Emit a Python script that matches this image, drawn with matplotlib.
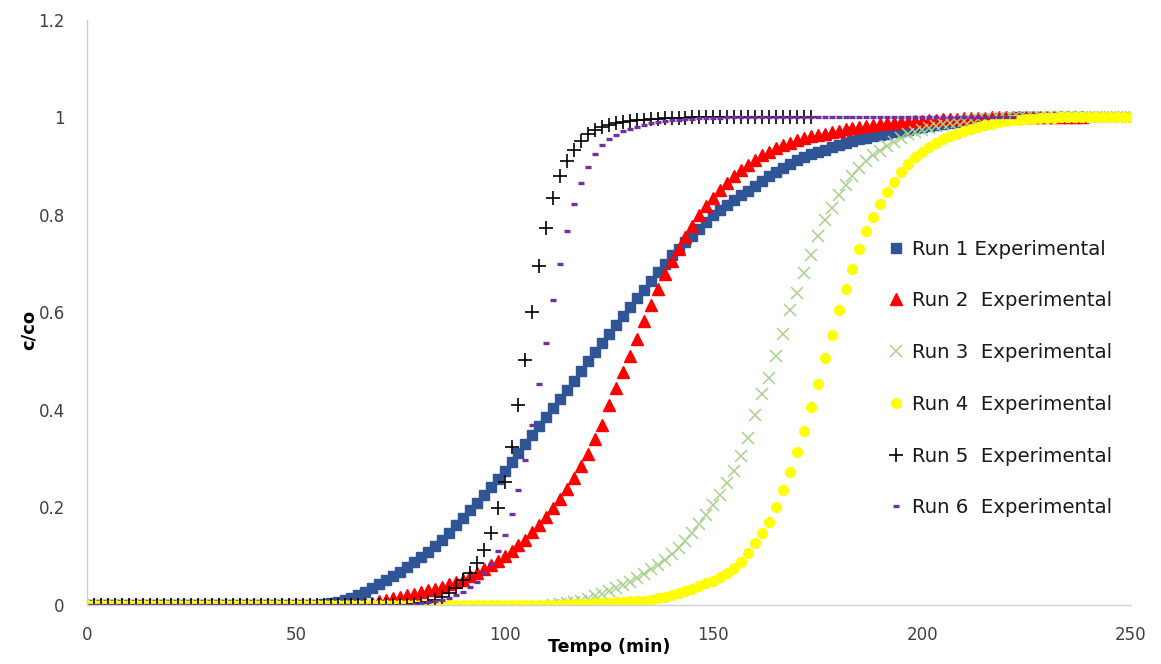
import numpy as np
import matplotlib
matplotlib.use('Agg')
import matplotlib.pyplot as plt

# sampling interval of the runs (min)
step = 5 / 3

# c/co readings, one per sample, starting at t = 0 (run 3 starts later)
run1 = [0, 0, 0, 0, 0, 0, 0, 0, 0, 0, 0, 0, 0, 0, 0, 0, 0, 0, 0, 0,
        0, 0, 0, 0, 0, 0, 0, 0, 0, 0, 0, 0, 0, 0.0, 0.002, 0.003, 0.005, 0.01, 0.015, 0.02,
        0.027, 0.034, 0.042, 0.051, 0.059, 0.068, 0.078, 0.088, 0.098, 0.109, 0.12, 0.133,
        0.148, 0.163, 0.178, 0.194, 0.209, 0.225, 0.242, 0.258, 0.275, 0.293, 0.312, 0.33,
        0.348, 0.367, 0.385, 0.403, 0.422, 0.44, 0.46, 0.48, 0.50, 0.518, 0.537, 0.555,
        0.574, 0.593, 0.612, 0.63, 0.647, 0.665, 0.683, 0.70, 0.717, 0.73, 0.744, 0.757,
        0.771, 0.786, 0.80, 0.81, 0.82, 0.83, 0.84, 0.85, 0.86, 0.87, 0.879, 0.888,
        0.896, 0.904, 0.912, 0.918, 0.924, 0.93, 0.934, 0.939, 0.943, 0.947, 0.951, 0.955,
        0.958, 0.961, 0.964, 0.967, 0.97, 0.972, 0.975, 0.978, 0.98, 0.982, 0.984, 0.986,
        0.988, 0.99, 0.992, 0.993, 0.995, 0.996, 0.997, 0.998, 0.999, 0.999, 1.0, 1.0, 1.0]

run2 = [0, 0, 0, 0, 0, 0, 0, 0, 0, 0, 0, 0, 0, 0, 0, 0, 0, 0, 0, 0,
        0, 0, 0, 0, 0, 0, 0, 0, 0, 0, 0, 0, 0, 0, 0, 0, 0, 0, 0, 0.0,
        0.002, 0.004, 0.008, 0.011, 0.014, 0.017, 0.02, 0.023, 0.026, 0.03, 0.033, 0.037,
        0.042, 0.047, 0.052, 0.059, 0.066, 0.073, 0.082, 0.091, 0.10, 0.111, 0.122, 0.134,
        0.149, 0.164, 0.18, 0.198, 0.217, 0.238, 0.26, 0.285, 0.31, 0.34, 0.37, 0.41,
        0.444, 0.477, 0.51, 0.545, 0.582, 0.615, 0.649, 0.678, 0.705, 0.73, 0.755, 0.778,
        0.8, 0.818, 0.835, 0.851, 0.866, 0.88, 0.892, 0.903, 0.913, 0.922, 0.93, 0.937,
        0.943, 0.948, 0.953, 0.957, 0.961, 0.964, 0.967, 0.97, 0.973, 0.976, 0.978, 0.98,
        0.982, 0.984, 0.986, 0.988, 0.989, 0.99, 0.991, 0.992, 0.993, 0.994, 0.995, 0.996,
        0.997, 0.997, 0.998, 0.998, 0.999, 0.999, 1.0, 1.0, 1.0, 1.0, 1.0, 1.0,
        1.0, 1.0, 1.0, 1.0, 1.0, 1.0, 1.0, 1.0]

run3_start = 67  # first sample index of run 3
run3 = [0.0, 0.001, 0.003, 0.006, 0.009, 0.013, 0.018, 0.023, 0.029, 0.034, 0.041, 0.048,
        0.056, 0.064, 0.073, 0.082, 0.093, 0.105, 0.117, 0.132, 0.148, 0.166, 0.184, 0.205,
        0.226, 0.25, 0.275, 0.305, 0.343, 0.39, 0.432, 0.466, 0.51, 0.555, 0.605, 0.64,
        0.68, 0.718, 0.757, 0.79, 0.815, 0.84, 0.861, 0.88, 0.896, 0.91, 0.922, 0.932,
        0.942, 0.95, 0.958, 0.965, 0.97, 0.975, 0.979, 0.983, 0.986, 0.988, 0.99, 0.993,
        0.995, 0.996, 0.997, 0.997, 0.998, 0.998, 0.999, 0.999, 0.999, 1.0, 1.0, 1.0,
        1.0, 1.0, 1.0, 1.0, 1.0, 1.0, 1.0, 1.0, 1.0, 1.0, 1.0, 1.0]

run4 = [0, 0, 0, 0, 0, 0, 0, 0, 0, 0, 0, 0, 0, 0, 0, 0, 0, 0, 0, 0,
        0, 0, 0, 0, 0, 0, 0, 0, 0, 0, 0, 0, 0, 0, 0, 0, 0, 0, 0, 0,
        0, 0, 0, 0, 0, 0, 0, 0, 0, 0, 0, 0, 0, 0, 0, 0, 0, 0, 0, 0,
        0, 0, 0, 0, 0, 0, 0, 0, 0, 0.001, 0.001, 0.002, 0.002, 0.003, 0.003, 0.004,
        0.005, 0.006, 0.007, 0.008, 0.009, 0.011, 0.014, 0.017, 0.021, 0.025, 0.029, 0.033,
        0.038, 0.044, 0.05, 0.057, 0.066, 0.076, 0.089, 0.107, 0.126, 0.147, 0.171, 0.201,
        0.236, 0.273, 0.314, 0.357, 0.406, 0.454, 0.506, 0.553, 0.605, 0.649, 0.69, 0.73,
        0.768, 0.796, 0.823, 0.847, 0.867, 0.888, 0.905, 0.918, 0.93, 0.94, 0.948, 0.955,
        0.961, 0.967, 0.972, 0.977, 0.981, 0.984, 0.987, 0.99, 0.992, 0.994, 0.995, 0.996,
        0.997, 0.998, 0.998, 0.999, 1.0, 1.0, 1.0, 1.0, 1.0, 1.0, 1.0, 1.0, 1.0, 1.0, 1.0]

run5 = [0, 0, 0, 0, 0, 0, 0, 0, 0, 0, 0, 0, 0, 0, 0, 0, 0, 0, 0, 0,
        0, 0, 0, 0, 0, 0, 0, 0, 0, 0, 0, 0, 0, 0, 0, 0, 0, 0, 0, 0,
        0, 0, 0, 0, 0, 0, 0, 0.001, 0.003, 0.006, 0.01, 0.016, 0.024, 0.034,
        0.051, 0.065, 0.085, 0.113, 0.148, 0.198, 0.253, 0.324, 0.41, 0.503, 0.60, 0.695,
        0.773, 0.834, 0.879, 0.911, 0.934, 0.952, 0.965, 0.974, 0.981, 0.985, 0.988, 0.99,
        0.992, 0.994, 0.995, 0.996, 0.997, 0.998, 0.998, 0.999, 0.999, 1.0, 1.0, 1.0,
        1.0, 1.0, 1.0, 1.0, 1.0, 1.0, 1.0, 1.0, 1.0, 1.0, 1.0, 1.0, 1.0, 1.0, 1.0]

run6 = [0, 0, 0, 0, 0, 0, 0, 0, 0, 0, 0, 0, 0, 0, 0, 0, 0, 0, 0, 0,
        0, 0, 0, 0, 0, 0, 0, 0, 0, 0, 0, 0, 0, 0, 0, 0, 0, 0, 0, 0,
        0, 0, 0, 0, 0, 0, 0, 0.002, 0.004, 0.006, 0.008, 0.011, 0.015, 0.02,
        0.027, 0.036, 0.046, 0.065, 0.084, 0.111, 0.143, 0.186, 0.236, 0.297, 0.369, 0.453,
        0.537, 0.625, 0.70, 0.768, 0.823, 0.865, 0.898, 0.924, 0.944, 0.956, 0.964, 0.972,
        0.977, 0.981, 0.985, 0.988, 0.99, 0.992, 0.994, 0.995, 0.996, 0.997, 0.998, 0.998,
        0.999, 0.999, 1.0, 1.0, 1.0, 1.0, 1.0, 1.0, 1.0, 1.0, 1.0, 1.0, 1.0, 1.0,
        1.0, 1.0, 1.0, 1.0, 1.0, 1.0, 1.0, 1.0, 1.0, 1.0, 1.0, 1.0, 1.0, 1.0, 1.0, 1.0,
        1.0, 1.0, 1.0, 1.0, 1.0, 1.0, 1.0, 1.0, 1.0, 1.0, 1.0, 1.0, 1.0, 1.0]

labels = ['Run 1 Experimental', 'Run 2  Experimental', 'Run 3  Experimental',
          'Run 4  Experimental', 'Run 5  Experimental', 'Run 6  Experimental']

xticks = [0, 50, 100, 150, 200, 250]
yticks = [0, 0.2, 0.4, 0.6, 0.8, 1, 1.2]
ytick_labels = ['0', '0.2', '0.4', '0.6', '0.8', '1', '1.2']

def times(values, start=0):
    return (np.arange(len(values)) + start) * step

plt.rcParams['font.family'] = ['DejaVu Sans']

fig = plt.figure(figsize=(11.61, 6.64), dpi=100)
ax = fig.add_axes([0.075, 0.089, 0.899, 0.881])

ax.plot(times(run1), run1, 's', color='#2f5597', ms=6.8, mec='#2f5597', label=labels[0])
ax.plot(times(run2), run2, '^', color='#ff0000', ms=8.5, mec='#ff0000', label=labels[1])
ax.plot(times(run3, run3_start), run3, 'x', color='#a9d18e', ms=9, mew=1.1, label=labels[2])
ax.plot(times(run4), run4, 'o', color='#ffff00', ms=7, mec='#ffff00', label=labels[3])
ax.plot(times(run5), run5, '+', color='black', ms=10, mew=1.2, label=labels[4])
ax.plot(times(run6), run6, '_', color='#7030a0', ms=5, mew=2.4, label=labels[5])

ax.set_xlim(0, 250)
ax.set_ylim(0, 1.2)
ax.set_xticks(xticks)
ax.set_yticks(yticks)
ax.set_yticklabels(ytick_labels)
ax.tick_params(length=0, labelsize=12, labelcolor='#404040')
ax.tick_params(axis='y', pad=16)
ax.tick_params(axis='x', pad=15)
for s in ['top', 'right']:
    ax.spines[s].set_visible(False)
for s in ['left', 'bottom']:
    ax.spines[s].set_color('#d0d0d0')
    ax.spines[s].set_linewidth(1.0)

ax.set_xlabel('Tempo (min)', fontsize=12.5, fontweight='bold')
ax.xaxis.set_label_coords(0.5, -0.057)
ax.set_ylabel('c/co', fontsize=13, fontweight='bold')
ax.yaxis.set_label_coords(-0.047, 0.47)

leg = fig.legend(loc='center left', bbox_to_anchor=(0.748, 0.43), frameon=False,
                 fontsize=14.2, labelspacing=1.66, handlelength=1.0, handletextpad=0.3)
for t in leg.get_texts():
    t.set_color('#1a1a1a')

plt.savefig('out.png', dpi=100)
